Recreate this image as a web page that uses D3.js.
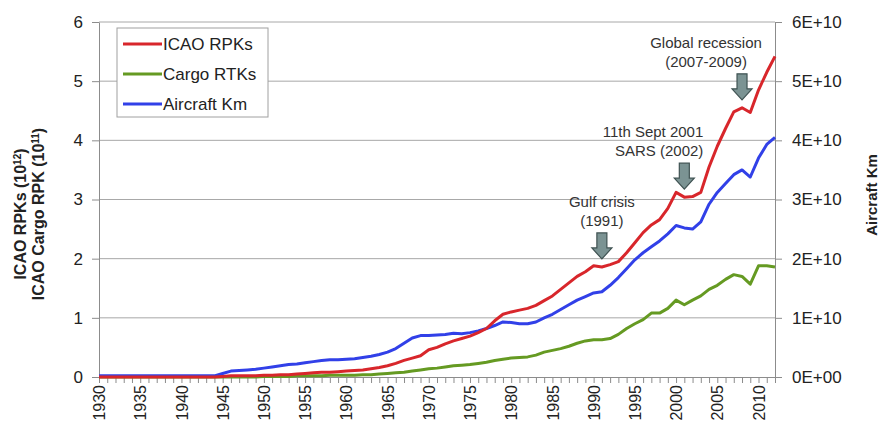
<!DOCTYPE html>
<html>
<head>
<meta charset="utf-8">
<script src="https://cdn.jsdelivr.net/npm/d3@7"></script>
<style>
  body { margin: 0; background: #fff; }
  svg text { font-family: "Liberation Sans", Arial, sans-serif; fill: #222; }
</style>
</head>
<body>
<span></span>
<script>
// air traffic growth 1930-2012: RPKs + cargo on the left axis, aircraft km on the right

const years = d3.range(1930, 2013);

// ICAO RPKs, in 10^12
const rpks = [
  0.00, 0.00, 0.00, 0.00, 0.00, 0.00, 0.00, 0.00, 0.00, 0.00,
  0.00, 0.00, 0.00, 0.00, 0.00, 0.01, 0.02, 0.02, 0.02, 0.02,
  0.03, 0.03, 0.04, 0.04, 0.05, 0.06, 0.07, 0.08, 0.08, 0.09,
  0.10, 0.11, 0.12, 0.14, 0.16, 0.19, 0.23, 0.28, 0.32, 0.36,
  0.46, 0.50, 0.56, 0.61, 0.65, 0.69, 0.75, 0.82, 0.95, 1.06,
  1.10, 1.13, 1.16, 1.21, 1.29, 1.37, 1.48, 1.59, 1.70, 1.78,
  1.88, 1.86, 1.90, 1.95, 2.10, 2.27, 2.44, 2.57, 2.66, 2.85,
  3.12, 3.04, 3.05, 3.12, 3.55, 3.90, 4.20, 4.48, 4.55, 4.47,
  4.85, 5.15, 5.42
];

// Cargo RTKs, in 10^11
const cargo = [
  0.00, 0.00, 0.00, 0.00, 0.00, 0.00, 0.00, 0.00, 0.00, 0.00,
  0.00, 0.00, 0.00, 0.00, 0.00, 0.00, 0.00, 0.00, 0.00, 0.00,
  0.01, 0.01, 0.01, 0.01, 0.02, 0.02, 0.02, 0.02, 0.03, 0.03,
  0.03, 0.03, 0.04, 0.04, 0.05, 0.06, 0.07, 0.08, 0.10, 0.12,
  0.14, 0.15, 0.17, 0.19, 0.20, 0.21, 0.23, 0.25, 0.28, 0.30,
  0.32, 0.33, 0.34, 0.37, 0.42, 0.45, 0.48, 0.52, 0.57, 0.61,
  0.63, 0.63, 0.65, 0.72, 0.82, 0.90, 0.97, 1.08, 1.08, 1.16,
  1.30, 1.22, 1.30, 1.37, 1.48, 1.55, 1.65, 1.73, 1.70, 1.57,
  1.88, 1.88, 1.86
];

// Aircraft km, in 10^10
const aircraftKm = [
  0.02, 0.02, 0.02, 0.02, 0.02, 0.02, 0.02, 0.02, 0.02, 0.02,
  0.02, 0.02, 0.02, 0.02, 0.02, 0.06, 0.10, 0.11, 0.12, 0.13,
  0.15, 0.17, 0.19, 0.21, 0.22, 0.24, 0.26, 0.28, 0.29, 0.29,
  0.30, 0.31, 0.33, 0.35, 0.38, 0.42, 0.48, 0.57, 0.66, 0.70,
  0.70, 0.71, 0.72, 0.74, 0.73, 0.75, 0.78, 0.82, 0.87, 0.93,
  0.92, 0.90, 0.90, 0.93, 1.00, 1.06, 1.14, 1.22, 1.30, 1.36,
  1.42, 1.44, 1.55, 1.68, 1.83, 1.98, 2.10, 2.20, 2.30, 2.42,
  2.56, 2.52, 2.50, 2.62, 2.92, 3.12, 3.27, 3.42, 3.50, 3.38,
  3.70, 3.93, 4.05
];

const seriesNames = ["ICAO RPKs", "Cargo RTKs", "Aircraft Km"];
const seriesColors = ["#d8262b", "#659a22", "#3140e8"];

const leftTicks = [0, 1, 2, 3, 4, 5, 6];
const rightTicks = [0, 1e10, 2e10, 3e10, 4e10, 5e10, 6e10];

const eventLabels = [["Gulf crisis", "(1991)"], ["11th Sept 2001", "SARS (2002)"], ["Global recession", "(2007-2009)"]];
const eventYears = [1991, 2001, 2008];

var width = 880;
var height = 429;
var margin = {top: 22, right: 105, bottom: 52, left: 99};

const svg = d3.select("span")
    .append("svg")
    .attr("width", width)
    .attr("height", height);

const xScale = d3.scaleLinear()
    .domain([1930, 2012])
    .range([margin.left, width - margin.right]);
const yLeft = d3.scaleLinear()
    .domain([0, 6])
    .range([height - margin.bottom, margin.top]);
const yRight = d3.scaleLinear()
    .domain([0, 6e10])
    .range([height - margin.bottom, margin.top]);

// gridlines
svg.append("g")
    .selectAll("line")
    .data(leftTicks.filter(d => d > 0))
    .enter()
    .append("line")
        .attr("x1", margin.left)
        .attr("x2", width - margin.right)
        .attr("y1", d => yLeft(d))
        .attr("y2", d => yLeft(d))
        .style("stroke", "#a8a8a8")
        .style("stroke-width", 1);

// axes
svg.append("g")
    .attr("transform", `translate(${margin.left}, 0)`)
    .call(d3.axisLeft(yLeft).tickValues(leftTicks).tickSize(7).tickSizeOuter(0).tickPadding(9).tickFormat(d3.format("d")))
    .call(g => g.selectAll("text").style("font-size", "17px"));

svg.append("g")
    .attr("transform", `translate(${width - margin.right}, 0)`)
    .call(d3.axisRight(yRight).tickValues(rightTicks).tickSize(7).tickSizeOuter(0).tickPadding(10)
        .tickFormat(d => d === 0 ? "0E+00" : (d / 1e10) + "E+10"))
    .call(g => g.selectAll("text").style("font-size", "17px"));

svg.append("g")
    .attr("transform", `translate(0, ${height - margin.bottom})`)
    .call(d3.axisBottom(xScale).tickValues(years).tickSize(6).tickSizeOuter(0)
        .tickFormat(d => d % 5 === 0 ? d : ""))
    .call(g => g.selectAll("text")
        .style("font-size", "16px")
        .attr("text-anchor", "end")
        .attr("transform", "rotate(-90)")
        .attr("x", -8)
        .attr("y", 0)
        .attr("dy", "0.35em"));

svg.selectAll(".domain, .tick line").style("stroke", "#8c8c8c");

// series lines
var lineLeft = d3.line()
    .x((d, i) => xScale(years[i]))
    .y(d => yLeft(d));
var lineRight = d3.line()
    .x((d, i) => xScale(years[i]))
    .y(d => yRight(d * 1e10));

svg.append("path")
    .datum(cargo)
    .attr("d", lineLeft)
    .style("fill", "none")
    .style("stroke", seriesColors[1])
    .style("stroke-width", 3)
    .style("stroke-linejoin", "round");

svg.append("path")
    .datum(aircraftKm)
    .attr("d", lineRight)
    .style("fill", "none")
    .style("stroke", seriesColors[2])
    .style("stroke-width", 3)
    .style("stroke-linejoin", "round");

svg.append("path")
    .datum(rpks)
    .attr("d", lineLeft)
    .style("fill", "none")
    .style("stroke", seriesColors[0])
    .style("stroke-width", 3)
    .style("stroke-linejoin", "round");

// event arrows + notes
eventYears.forEach(function(yr, i) {
    let cx = xScale(yr);
    let tip = yLeft(rpks[yr - 1930]) - 8;
    let top = tip - 26;
    svg.append("path")
        .attr("d", `M${cx - 5},${top} L${cx + 5},${top} L${cx + 5},${top + 15} L${cx + 10},${top + 15} L${cx},${tip} L${cx - 10},${top + 15} L${cx - 5},${top + 15} Z`)
        .style("fill", "#7b9393")
        .style("stroke", "#3f5252")
        .style("stroke-width", 1.2);

    let anchor = i === 1 ? "end" : "middle";
    let tx = i === 0 ? cx : (i === 1 ? cx + 19 : cx - 36);
    eventLabels[i].forEach(function(s, j) {
        svg.append("text")
            .attr("x", tx)
            .attr("y", top - 26 + j * 19)
            .attr("text-anchor", anchor)
            .style("font-size", "15px")
            .style("fill", "#333")
            .text(s);
    });
});

// legend
let legend = svg.append("g").attr("transform", "translate(117, 28)");
legend.append("rect")
    .attr("width", 151)
    .attr("height", 89)
    .style("fill", "#fff")
    .style("stroke", "#a0a0a0");
seriesNames.forEach(function(name, i) {
    legend.append("line")
        .attr("x1", 6).attr("x2", 45)
        .attr("y1", 16 + i * 30).attr("y2", 16 + i * 30)
        .style("stroke", seriesColors[i])
        .style("stroke-width", 3);
    legend.append("text")
        .attr("x", 46)
        .attr("y", 16 + i * 30)
        .attr("dy", "0.35em")
        .style("font-size", "17px")
        .text(name);
});

// axis titles
let leftTitle = svg.append("text")
    .attr("transform", "translate(26, 214) rotate(-90)")
    .attr("text-anchor", "middle")
    .style("font-size", "16px")
    .style("font-weight", "bold");
leftTitle.append("tspan").attr("x", 0).attr("dy", 0).text("ICAO RPKs (10");
leftTitle.append("tspan").attr("baseline-shift", "super").style("font-size", "10px").text("12");
leftTitle.append("tspan").text(")");

let leftTitle2 = svg.append("text")
    .attr("transform", "translate(44, 214) rotate(-90)")
    .attr("text-anchor", "middle")
    .style("font-size", "16px")
    .style("font-weight", "bold");
leftTitle2.append("tspan").text("ICAO Cargo RPK (10");
leftTitle2.append("tspan").attr("baseline-shift", "super").style("font-size", "10px").text("11");
leftTitle2.append("tspan").text(")");

svg.append("text")
    .attr("transform", "translate(877, 195) rotate(-90)")
    .attr("text-anchor", "middle")
    .style("font-size", "15px")
    .style("font-weight", "bold")
    .text("Aircraft Km");
</script>
</body>
</html>
